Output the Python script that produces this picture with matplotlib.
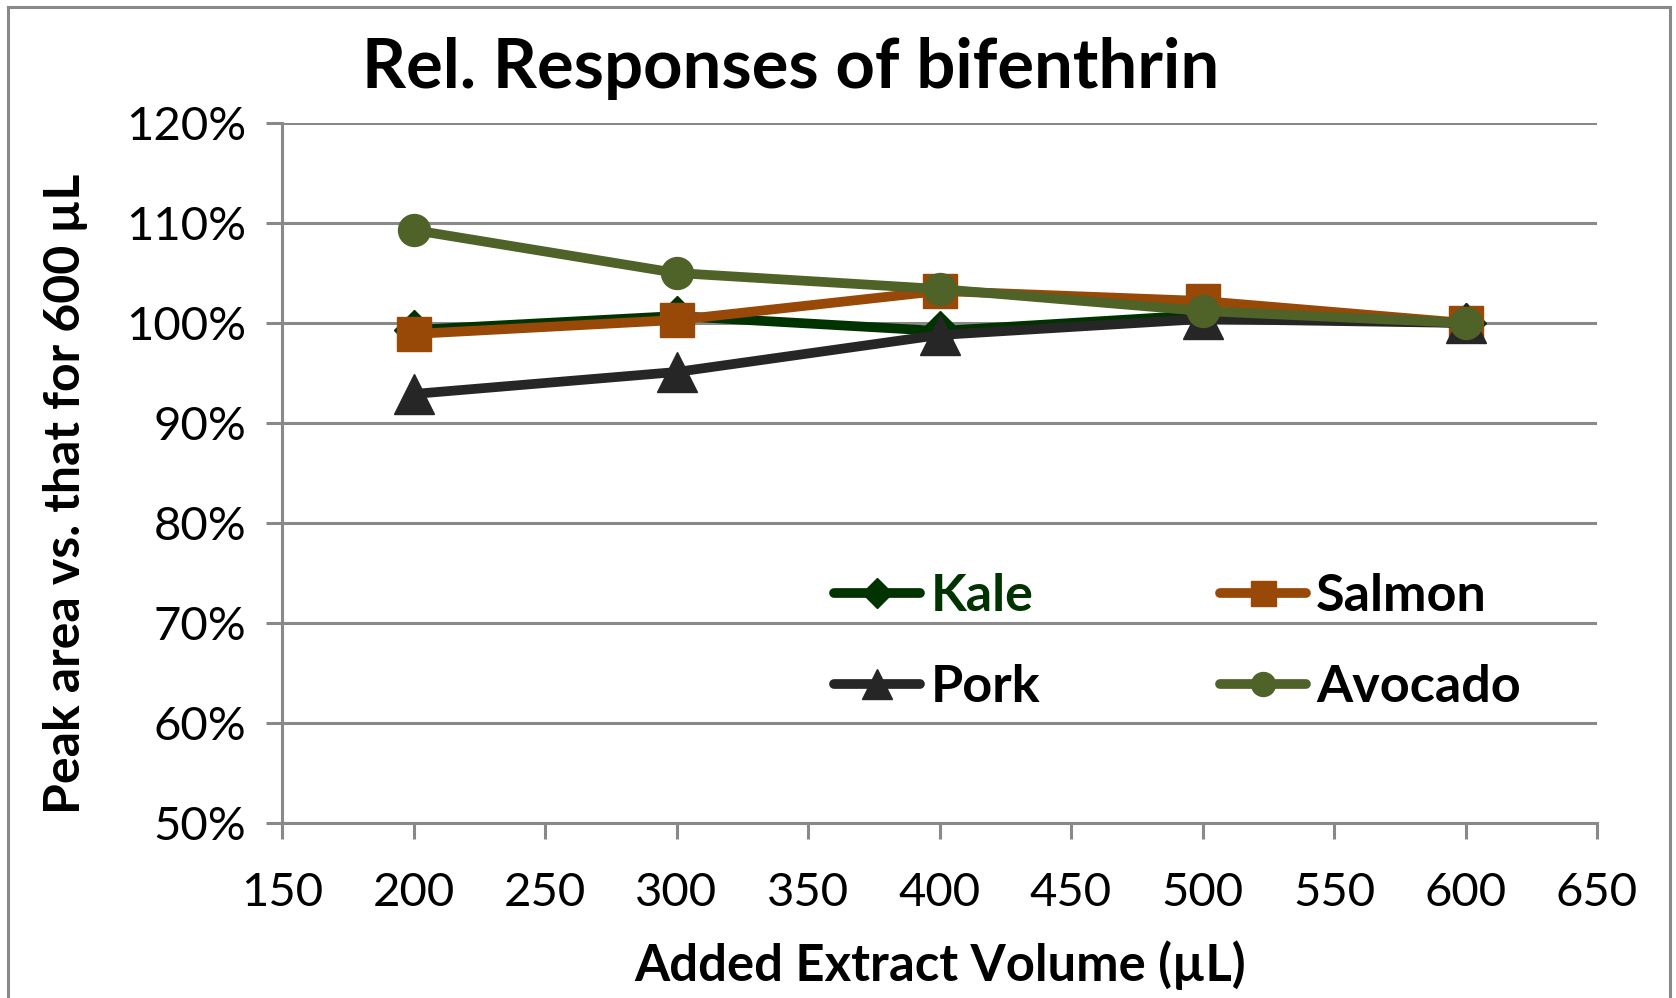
import matplotlib.pyplot as plt
from matplotlib.lines import Line2D
from matplotlib.ticker import FuncFormatter
import numpy as np

plt.rcParams['font.family'] = ['Lato', 'DejaVu Sans']

volumes = [200, 300, 400, 500, 600]
kale = [99.3, 100.7, 99.2, 100.8, 100.0]
salmon = [98.9, 100.3, 103.2, 102.2, 100.0]
pork = [92.9, 95.1, 98.8, 100.4, 100.0]
avocado = [109.3, 105.0, 103.4, 101.2, 100.0]

series = [
    ("Kale", kale, "#003300", "D", 20),
    ("Salmon", salmon, "#984807", "s", 24),
    ("Pork", pork, "#262626", "^", 29),
    ("Avocado", avocado, "#4F6228", "o", 23),
]

W, H = 1676, 998
fig = plt.figure(figsize=(W / 100, H / 100), dpi=100)
ax = fig.add_axes([282 / W, 1 - 823 / H, (1597 - 282) / W, (823 - 123) / H])

grey = "#898989"
lines = {}
for name, vals, col, mk, ms in series:
    ln, = ax.plot(volumes, np.array(vals) / 100, color=col, lw=7, marker=mk,
                  ms=ms, solid_capstyle='round', label=name, clip_on=False)
    lines[name] = ln

ax.set_xlim(150, 650)
ax.set_ylim(0.5, 1.2)
ax.set_xticks(np.arange(150, 651, 50))
ax.set_yticks(np.arange(0.5, 1.21, 0.1))
ax.yaxis.set_major_formatter(FuncFormatter(lambda v, p: f"{v * 100:.0f}%"))
ax.grid(axis='y', color=grey, lw=2.2)
ax.set_axisbelow(True)
for s in ['top', 'right']:
    ax.spines[s].set_visible(False)
for s in ['left', 'bottom']:
    ax.spines[s].set_color(grey)
    ax.spines[s].set_linewidth(2.2)
ax.tick_params(axis='both', direction='out', length=11.5, width=2.2,
               color=grey, labelsize=34)
ax.tick_params(axis='x', pad=24)
ax.tick_params(axis='y', pad=14)

fig.text(791 / W, 1 - 68 / H, "Rel. Responses of bifenthrin", ha='center',
         va='center', fontsize=49.5, fontweight='bold')
fig.text(66 / W, 1 - 494 / H, "Peak area vs. that for 600 µL", ha='center',
         va='center', rotation=90, fontsize=36, fontweight='bold')
fig.text(940 / W, 1 - 965 / H, "Added Extract Volume (µL)", ha='center',
         va='center', fontsize=36.5, fontweight='bold')

order = ["Kale", "Pork", "Salmon", "Avocado"]
leg = ax.legend([lines[n] for n in order], order, ncol=2, frameon=False,
                loc='upper left', bbox_to_anchor=(808 / W, 1 - 547 / H),
                bbox_transform=fig.transFigure, prop={'weight': 'bold', 'size': 37.5},
                handlelength=1.65, handletextpad=0.2, columnspacing=3.45,
                labelspacing=0.85, markerscale=0.75, borderpad=0)
leg.get_texts()[0].set_color("#003300")

# outer chart border
for xs, ys in [([8, 8], [H + 5, 7]), ([8, 1670], [7, 7]), ([1670, 1670], [7, H + 5])]:
    fig.add_artist(Line2D([x / W for x in xs], [1 - y / H for y in ys],
                          color=grey, lw=2.2))

fig.savefig("out.png", dpi=100)
